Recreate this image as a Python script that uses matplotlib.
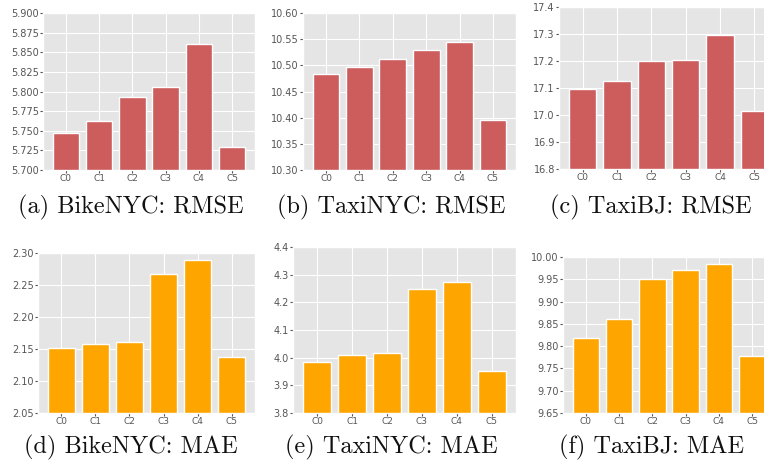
import matplotlib.pyplot as plt
import numpy as np

plt.style.use("ggplot")

etiquetas = ["C0", "C1", "C2", "C3", "C4", "C5"]

bike_rmse = [5.7475, 5.763, 5.793, 5.806, 5.861, 5.729]
taxinyc_rmse = [10.483, 10.496, 10.512, 10.529, 10.544, 10.396]
taxibj_rmse = [17.095, 17.125, 17.199, 17.205, 17.2975, 17.014]
bike_mae = [2.152, 2.158, 2.1605, 2.267, 2.2896, 2.138]
taxinyc_mae = [3.985, 4.010, 4.018, 4.250, 4.272, 3.952]
taxibj_mae = [9.818, 9.862, 9.950, 9.971, 9.985, 9.778]

legendas = ["(a) BikeNYC: RMSE", "(b) TaxiNYC: RMSE", "(c) TaxiBJ: RMSE",
            "(d) BikeNYC: MAE", "(e) TaxiNYC: MAE", "(f) TaxiBJ: MAE"]

W, H = 764, 466
# (left, top, right, bottom) in pixels
caixas = [(43, 13, 255, 170), (303, 13, 516, 170), (559, 7, 778, 169),
          (38, 253, 255, 413), (293, 247, 516, 413), (563, 257, 775, 413)]
centros = [(131, 207), (391, 207), (651, 207),
           (131, 447), (391, 447), (652, 447)]

series = [bike_rmse, taxinyc_rmse, taxibj_rmse, bike_mae, taxinyc_mae, taxibj_mae]
cores = ["indianred"] * 3 + ["orange"] * 3
limites = [(5.700, 5.900, 0.025, "%.3f"), (10.30, 10.60, 0.05, "%.2f"),
           (16.8, 17.4, 0.1, "%.1f"), (2.05, 2.30, 0.05, "%.2f"),
           (3.8, 4.4, 0.1, "%.1f"), (9.65, 10.00, 0.05, "%.2f")]

fig = plt.figure(figsize=(W / 100, H / 100), dpi=100)
fig.patch.set_facecolor("white")

for i in range(6):
    l, t, r, b = caixas[i]
    ax = fig.add_axes([l / W, 1 - b / H, (r - l) / W, (b - t) / H])
    ax.bar(etiquetas, series[i], color=cores[i], edgecolor="white", linewidth=1)
    ymin, ymax, passo, fmt = limites[i]
    ticks = np.arange(ymin, ymax + passo / 2, passo)
    ax.set_ylim(ymin, ymax)
    ax.set_yticks(ticks)
    ax.set_yticklabels([fmt % v for v in ticks])
    ax.tick_params(axis="y", labelsize=7, colors="#555555", length=2, pad=1)
    ax.tick_params(axis="x", labelsize=6.5, colors="#555555", length=2, pad=1)
    ax.set_xlim(-0.69, 5.69)
    fig.text(centros[i][0] / W, 1 - centros[i][1] / H, legendas[i],
             family=["cmr10", "DejaVu Serif"], ha="center", va="center",
             fontsize=17.5, color="#111111")

plt.savefig("out.png", dpi=100)
